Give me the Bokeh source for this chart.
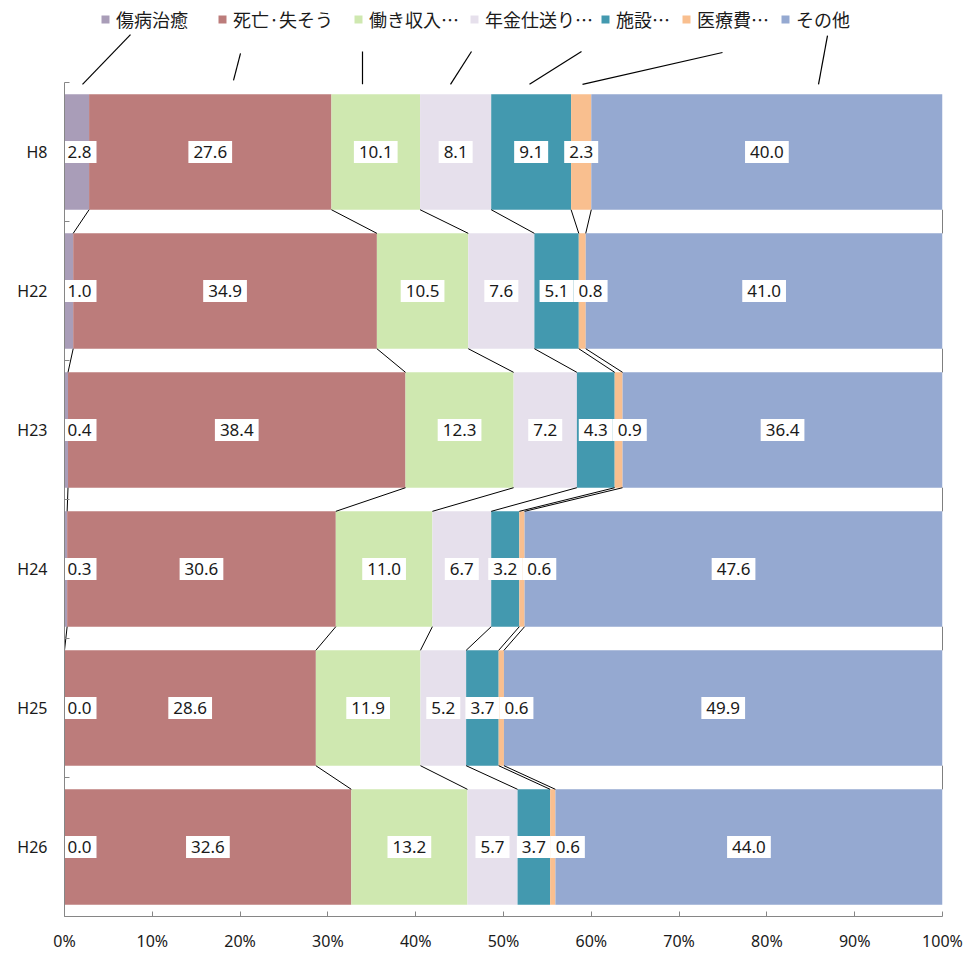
import numpy as np
from bokeh.plotting import figure
from bokeh.models import (ColumnDataSource, Range1d, FixedTicker, PrintfTickFormatter,
                          Legend, LegendItem)
from bokeh.core.properties import value
from bokeh.embed import file_html
from bokeh.resources import INLINE

# ---------------- data ----------------
categories = ["H8", "H22", "H23", "H24", "H25", "H26"]
series_names = ["傷病治癒", "死亡·失そう", "働き収入…", "年金仕送り…", "施設…", "医療費…", "その他"]
s_injury = [2.8, 1.0, 0.4, 0.3, 0.0, 0.0]
s_death = [27.6, 34.9, 38.4, 30.6, 28.6, 32.6]
s_work = [10.1, 10.5, 12.3, 11.0, 11.9, 13.2]
s_pension = [8.1, 7.6, 7.2, 6.7, 5.2, 5.7]
s_facility = [9.1, 5.1, 4.3, 3.2, 3.7, 3.7]
s_medical = [2.3, 0.8, 0.9, 0.6, 0.6, 0.6]
s_other = [40.0, 41.0, 36.4, 47.6, 49.9, 44.0]
x_ticks = [0, 10, 20, 30, 40, 50, 60, 70, 80, 90, 100]

series = [s_injury, s_death, s_work, s_pension, s_facility, s_medical, s_other]

# ---------------- styles ----------------
colors = ["#A99DB8", "#BC7C7B", "#CFE8B0", "#E6E0EC", "#4399AF", "#F9BF8F", "#95A9D1"]
W, H = 963, 954
ML, MR, MT, MB = 64, 21, 0, 34
frame_w = W - ML - MR
frame_h = H - MT - MB
frame_bottom_page = MT + frame_h
px_per_pct = frame_w / 100.0
slot_px = 139.6
bar_h = 0.83
y_bottom = 5.5
y_top = y_bottom - frame_h / slot_px
page_y0 = 152.0  # page pixel of first category centre

def page_to_y(py):
    return (py - page_y0) / slot_px

legend_square_left_px = [100, 217, 353, 469, 600, 681, 780]
legend_bottom_page = 36
leader_bottom = [(82, 84), (233, 80), (362, 84), (450, 84), (529, 84), (582, 84), (818, 84)]
leader_top = [(130, 34), (240, 53), (362, 51), (471, 51), (581, 51), (722, 52), (827, 35)]

# ---------------- derived ----------------
vals = np.array(series, dtype=float)          # (7, 6)
totals = vals.sum(axis=0)
norm = vals / totals * 100.0
cum = np.cumsum(norm, axis=0)
starts = cum - norm
ys = np.arange(len(categories))

p = figure(width=W, height=H, x_range=Range1d(0, 100), y_range=Range1d(y_bottom, y_top),
           output_backend="svg", toolbar_location=None,
           min_border_left=ML, min_border_right=MR, min_border_top=MT, min_border_bottom=MB)
p.outline_line_color = None
p.xgrid.visible = False
p.ygrid.visible = False
p.background_fill_color = "white"

keys = [f"s{k}" for k in range(len(series))]
src = ColumnDataSource(dict(y=list(ys), **{keys[k]: list(norm[k]) for k in range(len(series))}))
rs = p.hbar_stack(keys, y="y", height=bar_h, color=colors, line_color=None, source=src)

# series lines between bars
x0, y0, x1, y1 = [], [], [], []
for k in range(len(series)):
    for i in range(len(categories) - 1):
        x0.append(cum[k][i]); y0.append(i + bar_h / 2)
        x1.append(cum[k][i + 1]); y1.append(i + 1 - bar_h / 2)
p.segment(x0=x0, y0=y0, x1=x1, y1=y1, line_color="black", line_width=1)

# leader lines at top
lx0 = [(a - 64) / px_per_pct for a, b in leader_bottom]
ly0 = [page_to_y(b) for a, b in leader_bottom]
lx1 = [(a - 64) / px_per_pct for a, b in leader_top]
ly1 = [page_to_y(b) for a, b in leader_top]
p.segment(x0=lx0, y0=ly0, x1=lx1, y1=ly1, line_color="black", line_width=1.2)

# data labels
box_w_px = 34
lab_x, lab_y, lab_t = [], [], []
for i in range(len(categories)):
    prev = None
    for k in range(len(series)):
        c = (starts[k][i] + cum[k][i]) / 2 * px_per_pct
        c = max(c, box_w_px / 2 - 2)
        if prev is not None and c - prev < box_w_px:
            c = prev + box_w_px
        prev = c
        lab_x.append(c / px_per_pct)
        lab_y.append(i)
        lab_t.append(f"{series[k][i]:.1f}")
p.text(x=lab_x, y=lab_y, text=lab_t, text_align="center", text_baseline="middle",
       text_font=value("Noto Sans"), text_font_size="17px", text_color="#1a1a1a",
       background_fill_color="white",
       padding=dict(left=5, right=5, top=5, bottom=5))

# axes
xa = p.xaxis[0]
xa.ticker = FixedTicker(ticks=x_ticks)
xa.formatter = PrintfTickFormatter(format="%d%%")
xa.axis_line_color = "#868686"
xa.major_tick_line_color = "#868686"
xa.major_tick_in = 5
xa.major_tick_out = 0
xa.minor_tick_line_color = None
xa.major_label_standoff = 13
xa.major_label_text_font = "Noto Sans"
xa.major_label_text_font_size = "16px"
xa.major_label_text_color = "#1a1a1a"

ya = p.yaxis[0]
ya.ticker = FixedTicker(ticks=list(ys), minor_ticks=[i - 0.5 for i in range(len(categories) + 1)])
ya.bounds = (-0.5, 5.5)
ya.major_label_overrides = {int(i): c for i, c in zip(ys, categories)}
ya.axis_line_color = "#868686"
ya.major_tick_line_color = None
ya.major_tick_in = 0
ya.major_tick_out = 0
ya.minor_tick_line_color = "#868686"
ya.minor_tick_in = 5
ya.minor_tick_out = 0
ya.major_label_standoff = 17
ya.major_label_text_font = "Noto Sans"
ya.major_label_text_font_size = "16px"
ya.major_label_text_color = "#1a1a1a"

# legends (one per entry, positioned like the reference)
for k in range(len(series)):
    leg = Legend(items=[LegendItem(label=series_names[k], renderers=[rs[k]])],
                 location=(legend_square_left_px[k] - 64, frame_bottom_page - legend_bottom_page),
                 orientation="horizontal", padding=0, margin=0, spacing=0,
                 border_line_color=None, background_fill_alpha=0,
                 glyph_width=10, glyph_height=10, label_standoff=6,
                 label_text_font="Noto Sans CJK JP", label_text_font_size="18px",
                 label_text_color="#1a1a1a")
    p.add_layout(leg)

open("out.html", "w").write(file_html(p, INLINE))
